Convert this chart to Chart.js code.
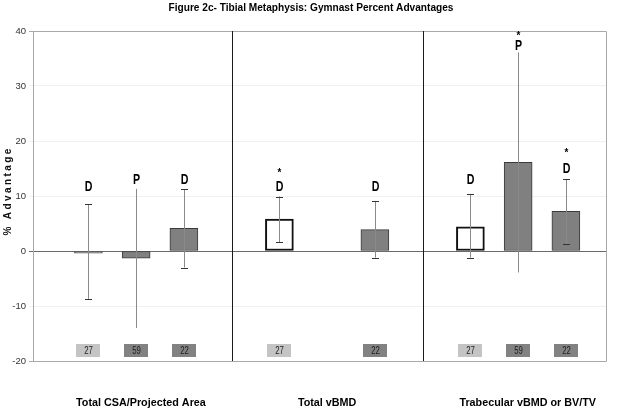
<!DOCTYPE html>
<html><head><meta charset="utf-8">
<script src="https://cdn.jsdelivr.net/npm/chart.js@4.4.1/dist/chart.umd.min.js"></script>
<style>html,body{margin:0;padding:0;background:#fff}#wrap{width:626px;height:412px;position:relative}</style>
</head><body><div id="wrap"><canvas id="c"></canvas></div>
<script>
// ---------- data ----------
const chartTitle = 'Figure 2c- Tibial Metaphysis: Gymnast Percent Advantages';
const yAxisTitle = '% Advantage';
const groupLabels = ['Total CSA/Projected Area', 'Total vBMD', 'Trabecular vBMD or BV/TV'];
const groupLabelSlots = [2.1, 6.0, 10.2];
const separatorSlots = [4, 8];
const yMin = -20, yMax = 40, yStep = 10;

// series n=27 (open bars)
const slots27 = [1, 5, 9];
const values27 = [-0.4, 5.8, 4.4];
const errHi27 = [8.5, 9.9, 10.3];
const errLo27 = [-8.7, 1.6, -1.2];
const marks27 = ['D', 'D', 'D'];
const markY27 = [11.7, 11.7, 12.8];
const stars27 = ['', '*', ''];
const starY27 = [0, 14.6, 0];
const n27 = '27';

// series n=59
const slots59 = [2, 10];
const values59 = [-1.3, 16.1];
const errHi59 = [11.3, 36.1];
const errLo59 = [-14.0, -3.9];
const marks59 = ['P', 'P'];
const markY59 = [12.8, 37.3];
const stars59 = ['', '*'];
const starY59 = [0, 39.5];
const n59 = '59';

// series n=22
const slots22 = [3, 7, 11];
const values22 = [4.1, 3.9, 7.2];
const errHi22 = [11.2, 9.1, 13.1];
const errLo22 = [-3.0, -1.2, 1.3];
const marks22 = ['D', 'D', 'D'];
const markY22 = [12.8, 11.7, 14.9];
const stars22 = ['', '', '*'];
const starY22 = [0, 0, 18.2];
const n22 = '22';

const nBoxY = -18.1;

// ---------- styling ----------
const FONT = "'Liberation Sans',Arial,sans-serif";

const series = [
  {slots: slots27, values: values27, hi: errHi27, lo: errLo27, marks: marks27, markY: markY27, stars: stars27, starY: starY27, n: n27,
   bg: ['#777777', '#ffffff', '#ffffff'], border: ['#555555', '#111111', '#111111'], bw: [1, 2, 2], caps: true, boxColor: '#c4c4c4'},
  {slots: slots59, values: values59, hi: errHi59, lo: errLo59, marks: marks59, markY: markY59, stars: stars59, starY: starY59, n: n59,
   bg: '#808080', border: '#3a3a3a', bw: 1, caps: false, boxColor: '#828282'},
  {slots: slots22, values: values22, hi: errHi22, lo: errLo22, marks: marks22, markY: markY22, stars: stars22, starY: starY22, n: n22,
   bg: '#808080', border: '#3a3a3a', bw: 1, caps: true, boxColor: '#828282'}
];

function narrowText(ctx, text, x, y, font, sx) {
  ctx.save();
  ctx.translate(x, y);
  ctx.scale(sx, 1);
  ctx.font = font;
  ctx.fillText(text, 0, 0);
  ctx.restore();
}

const overlay = {
  id: 'overlay',
  afterDatasetsDraw(chart) {
    const ctx = chart.ctx, xs = chart.scales.x, ys = chart.scales.y, a = chart.chartArea;
    ctx.save();
    // plot frame (top, right, bottom)
    ctx.strokeStyle = '#a8a8a8'; ctx.lineWidth = 1;
    ctx.beginPath();
    ctx.moveTo(a.left, a.top + 0.5); ctx.lineTo(a.right + 0.5, a.top + 0.5);
    ctx.lineTo(a.right + 0.5, a.bottom + 0.5); ctx.lineTo(a.left, a.bottom + 0.5);
    ctx.stroke();
    // group separators
    ctx.strokeStyle = '#1a1a1a';
    separatorSlots.forEach(s => {
      const x = Math.round(xs.getPixelForValue(s)) + 0.5;
      ctx.beginPath(); ctx.moveTo(x, a.top); ctx.lineTo(x, a.bottom); ctx.stroke();
    });
    series.forEach(sr => {
      sr.slots.forEach((s, i) => {
        const x = Math.round(xs.getPixelForValue(s)) + 0.5;
        const yh = ys.getPixelForValue(sr.hi[i]), yl = ys.getPixelForValue(sr.lo[i]);
        // error bar
        ctx.strokeStyle = '#8a8a8a'; ctx.lineWidth = 1;
        ctx.beginPath(); ctx.moveTo(x, yh); ctx.lineTo(x, yl); ctx.stroke();
        if (sr.caps) {
          ctx.strokeStyle = '#333333'; ctx.lineWidth = 1.2;
          ctx.beginPath();
          ctx.moveTo(x - 3.5, Math.round(yh) + 0.5); ctx.lineTo(x + 3.5, Math.round(yh) + 0.5);
          ctx.moveTo(x - 3.5, Math.round(yl) + 0.5); ctx.lineTo(x + 3.5, Math.round(yl) + 0.5);
          ctx.stroke();
        }
        // significance letters
        ctx.fillStyle = '#000';
        ctx.textAlign = 'center'; ctx.textBaseline = 'middle';
        narrowText(ctx, sr.marks[i], x, ys.getPixelForValue(sr.markY[i]), 'bold 14px ' + FONT, 0.76);
        if (sr.stars[i]) {
          narrowText(ctx, sr.stars[i], x, ys.getPixelForValue(sr.starY[i]) + 2, 'bold 11px ' + FONT, 0.9);
        }
        // n boxes
        const by = ys.getPixelForValue(nBoxY);
        ctx.fillStyle = sr.boxColor;
        ctx.fillRect(Math.round(x - 12.5), Math.round(by - 6.5), 24, 13);
        ctx.fillStyle = '#1e1e1e';
        narrowText(ctx, sr.n, x, by + 0.5, '10px ' + FONT, 0.78);
      });
    });
    ctx.restore();
  },
  afterDraw(chart) {
    const ctx = chart.ctx, xs = chart.scales.x, a = chart.chartArea;
    ctx.save();
    ctx.fillStyle = '#000';
    ctx.textAlign = 'center'; ctx.textBaseline = 'middle';
    // chart title
    narrowText(ctx, chartTitle, 311, 8, 'bold 11px ' + FONT, 0.92);
    // group labels under the plot
    groupLabels.forEach((lab, i) => {
      narrowText(ctx, lab, xs.getPixelForValue(groupLabelSlots[i]), 403, 'bold 11px ' + FONT, 0.98);
    });
    // y axis title
    ctx.translate(8, 191);
    ctx.rotate(-Math.PI / 2);
    ctx.font = 'bold 10px ' + FONT;
    try { ctx.letterSpacing = '2.4px'; } catch (e) {}
    ctx.fillStyle = '#111';
    ctx.fillText(yAxisTitle, 0, 0);
    ctx.restore();
  }
};

const datasets = series.map(sr => ({
  data: sr.slots.map((s, i) => ({x: s, y: sr.values[i]})),
  backgroundColor: sr.bg,
  borderColor: sr.border,
  borderWidth: sr.bw,
  borderSkipped: false,
  barThickness: 28,
  grouped: false
}));

new Chart(document.getElementById('c'), {
  type: 'bar',
  data: {datasets},
  options: {
    responsive: true,
    maintainAspectRatio: false,
    animation: false,
    layout: {padding: {left: 0, right: 20, top: 31, bottom: 0}},
    plugins: {
      legend: {display: false},
      tooltip: {enabled: false},
      title: {display: false}
    },
    scales: {
      x: {
        type: 'linear', min: -0.16, max: 11.84, offset: false,
        grid: {display: false, drawTicks: false},
        border: {display: false},
        afterFit: sc => { sc.height = 51; sc.paddingLeft = 0; sc.paddingRight = 0; },
        ticks: {display: false}
      },
      y: {
        min: yMin, max: yMax,
        afterFit: sc => { sc.width = 33; },
        ticks: {stepSize: yStep, padding: 3, color: '#333', font: {family: FONT, size: 9.5}},
        grid: {
          tickLength: 4,
          color: c => c.tick.value === 0 ? '#6a6a6a' : (c.tick.value === yMax || c.tick.value === yMin ? '#a8a8a8' : '#f1f1f1'),
          lineWidth: 1
        },
        border: {display: true, color: '#a8a8a8'}
      }
    }
  },
  plugins: [overlay]
});
</script>
</body></html>
